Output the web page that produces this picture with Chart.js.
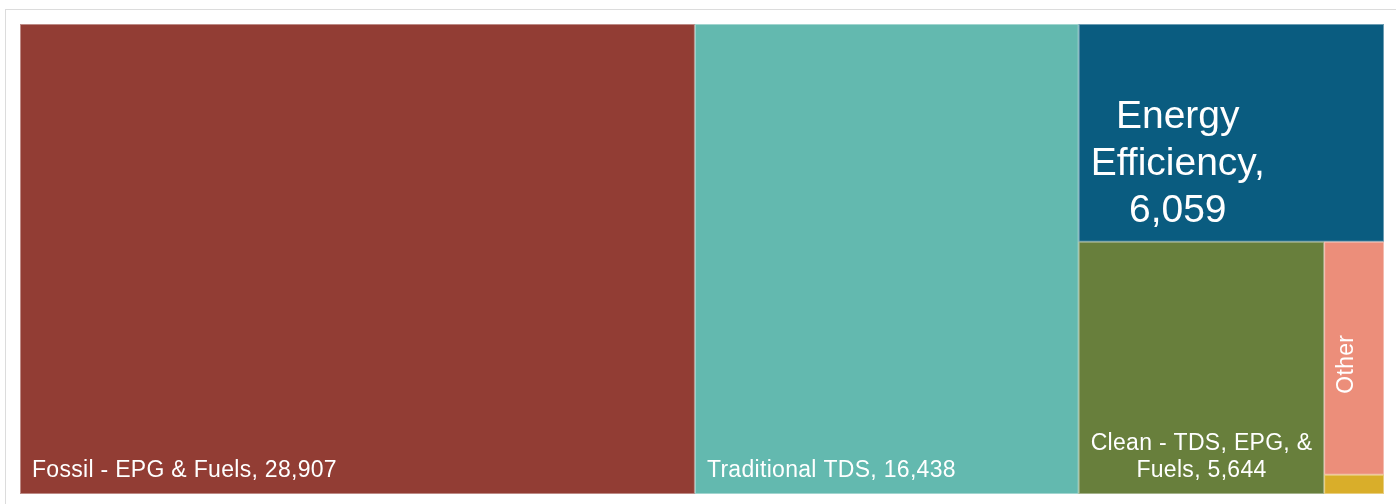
<!DOCTYPE html>
<html>
<head>
<meta charset="utf-8">
<script src="https://cdn.jsdelivr.net/npm/chart.js@4.4.1/dist/chart.umd.min.js"></script>
<style>
html, body { margin: 0; padding: 0; background: #fff; }
#wrap { position: relative; width: 1396px; height: 504px; overflow: hidden; }
#frame { position: absolute; left: 5px; top: 9px; width: 1400px; height: 600px; border: 1px solid #dcdcdc; }
canvas { position: absolute; left: 0; top: 0; }
</style>
</head>
<body>
<div id="wrap"><div id="frame"></div><canvas id="myChart" width="1396" height="504"></canvas></div>
<script>
// treemap data
const categories = ["Fossil - EPG & Fuels", "Traditional TDS", "Energy Efficiency", "Clean - TDS, EPG, & Fuels", "Other", "Remaining"]
const values = [28907, 16438, 6059, 5644, 1270, 105]

// how each cell is labelled: full = "name, value", name = name only (rotated), none
const labelModes = ["full", "full", "full", "full", "name", "none"]
const colors = ["#923d34", "#63b9af", "#0a5c80", "#687f3c", "#ec8e7a", "#d9ae2a"]
const fontSizes = [23, 23, 39, 23, 23, 23]

function worst(row, side) {
    let sum = 0, max = -Infinity, min = Infinity
    row.forEach(a => { sum += a; max = Math.max(max, a); min = Math.min(min, a) })
    return Math.max(side * side * max / (sum * sum), (sum * sum) / (side * side * min))
}

// squarified layout in a w x h box, areas must add up to w*h
function squarify(areas, x, y, w, h) {
    let rects = []
    let i = 0
    while (i < areas.length) {
        let side = Math.min(w, h)
        let row = [areas[i]]
        let j = i + 1
        while (j < areas.length && worst(row.concat(areas[j]), side) <= worst(row, side)) {
            row.push(areas[j])
            j++
        }
        let sum = row.reduce((a, b) => a + b, 0)
        if (w >= h) {
            let cw = sum / h, cy = y
            row.forEach(a => { let ch = a / cw; rects.push({x: x, y: cy, w: cw, h: ch}); cy += ch })
            x += cw; w -= cw
        } else {
            let rh = sum / w, cx = x
            row.forEach(a => { let rw = a / rh; rects.push({x: cx, y: y, w: rw, h: rh}); cx += rw })
            y += rh; h -= rh
        }
        i = j
    }
    return rects
}

function wrapWords(ctx, text, maxWidth) {
    let words = text.split(" ")
    let lines = []
    let line = ""
    words.forEach(word => {
        let test = line ? line + " " + word : word
        if (line && ctx.measureText(test).width > maxWidth) {
            lines.push(line)
            line = word
        } else {
            line = test
        }
    })
    if (line) lines.push(line)
    return lines
}

const treemapPlugin = {
    id: "treemap",
    afterDatasetsDraw(chart) {
        const ctx = chart.ctx
        const area = chart.chartArea
        const xs = chart.scales.x, ys = chart.scales.y
        const ratio = (area.right - area.left) / (area.bottom - area.top)
        const total = values.reduce((a, b) => a + b, 0)
        const rects = squarify(values.map(v => v / total * ratio), 0, 0, ratio, 1)

        rects.forEach((r, i) => {
            const left = xs.getPixelForValue(r.x / ratio)
            const right = xs.getPixelForValue((r.x + r.w) / ratio)
            const top = ys.getPixelForValue(r.y)
            const bottom = ys.getPixelForValue(r.y + r.h)
            ctx.save()
            ctx.fillStyle = colors[i]
            ctx.fillRect(left, top, right - left, bottom - top)
            ctx.strokeStyle = "rgba(255,255,255,0.4)"
            ctx.lineWidth = 1
            ctx.strokeRect(left + 0.5, top + 0.5, right - left - 1, bottom - top - 1)

            const size = fontSizes[i]
            ctx.fillStyle = "#ffffff"
            ctx.font = size + "px 'Liberation Sans', Arial, sans-serif"
            ctx.letterSpacing = size < 30 ? "0.3px" : "0px"
            const pad = 12
            if (labelModes[i] == "full") {
                const text = categories[i] + ", " + values[i].toLocaleString("en-US")
                const lines = wrapWords(ctx, text, right - left - 2 * pad + 1)
                const blockW = Math.max(...lines.map(l => ctx.measureText(l).width))
                const cx = left + pad + blockW / 2
                const lh = size * 1.2
                let base = bottom - pad - size * 0.21
                ctx.textAlign = "center"
                ctx.textBaseline = "alphabetic"
                for (let k = lines.length - 1; k >= 0; k--) {
                    ctx.fillText(lines[k], cx, base)
                    base -= lh
                }
            } else if (labelModes[i] == "name") {
                ctx.translate((left + right) / 2 - 7, (top + bottom) / 2 + 6)
                ctx.rotate(-Math.PI / 2)
                ctx.textAlign = "center"
                ctx.textBaseline = "middle"
                ctx.fillText(categories[i], 0, 0)
            }
            ctx.restore()
        })
    }
}

const chart = new Chart(document.getElementById("myChart").getContext("2d"), {
    type: "scatter",
    data: {
        datasets: [{ label: "treemap", data: [], pointRadius: 0 }]
    },
    options: {
        responsive: false,
        animation: false,
        layout: { padding: { left: 20, top: 24, right: 12, bottom: 10 } },
        scales: {
            x: { type: "linear", min: 0, max: 1, display: false },
            y: { type: "linear", min: 0, max: 1, reverse: true, display: false }
        },
        plugins: { legend: { display: false }, tooltip: { enabled: false } }
    },
    plugins: [treemapPlugin]
})
</script>
</body>
</html>
